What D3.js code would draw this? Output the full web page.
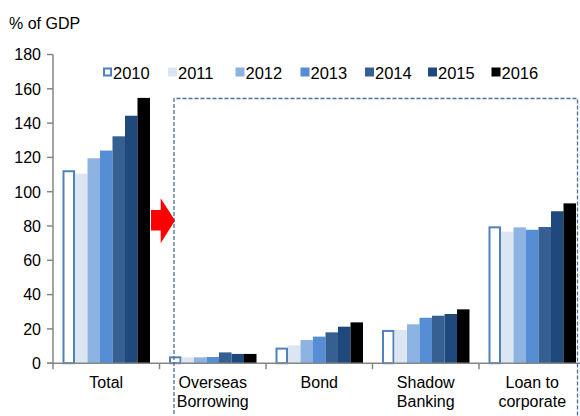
<!DOCTYPE html>
<html><head><meta charset="utf-8">
<script src="https://cdn.jsdelivr.net/npm/d3@7"></script>
<style>body{margin:0;background:#fff}svg{display:block}text{font-family:"Liberation Sans",Arial,sans-serif;fill:#000}</style>
</head><body><svg id="c" width="580" height="416"></svg>
<script>
const categories = [["Total"],["Overseas","Borrowing"],["Bond"],["Shadow","Banking"],["Loan to","corporate"]];
const years = ["2010","2011","2012","2013","2014","2015","2016"];
const colors = ["#ffffff","#dce6f2","#8db3e2","#558ed5","#376092","#1f497d","#000000"];
const values = [
  [112.5,110.5,119.5,124,132.3,144.3,154.7],
  [4,3.4,3.4,3.6,6.3,5.4,5.4],
  [9.1,10.4,13.5,15.5,18,21.3,23.8],
  [19.4,19.4,22.7,26.5,27.7,28.7,31.4],
  [79.8,76.7,79.2,77.8,79.4,88.6,93.2]
];
const yTicks = [0,20,40,60,80,100,120,140,160,180];

const svg = d3.select("#c");
const x0 = 53, x1 = 585.5, yTop = 54.5, yBot = 363.2;
const x = d3.scaleBand().domain(d3.range(categories.length)).range([x0,x1]).paddingInner(0).paddingOuter(0);
const y = d3.scaleLinear().domain([0,180]).range([yBot,yTop]);
const pad = 9.5;
const xb = d3.scaleBand().domain(years).range([pad, x.bandwidth()-pad]).padding(0);

// bars
const g = svg.append("g");
values.forEach((vals,ci)=>{
  vals.forEach((v,yi)=>{
    const bx = x(ci)+xb(years[yi]);
    if (yi===0) {
      g.append("rect").attr("x",bx+1).attr("y",y(v)+1).attr("width",xb.bandwidth()-2).attr("height",yBot-y(v)-1)
        .attr("fill","#fff").attr("stroke","#4f81bd").attr("stroke-width",2);
    } else {
      g.append("rect").attr("x",bx).attr("y",y(v)).attr("width",xb.bandwidth()).attr("height",yBot-y(v))
        .attr("fill",colors[yi]);
    }
  });
});

// y axis
const axG = svg.append("g");
axG.append("line").attr("x1",x0).attr("x2",x0).attr("y1",yTop).attr("y2",yBot).attr("stroke","#868686").attr("stroke-width",1.5);
yTicks.forEach(t=>{
  axG.append("line").attr("x1",x0-6).attr("x2",x0).attr("y1",y(t)).attr("y2",y(t)).attr("stroke","#868686").attr("stroke-width",1.5);
  axG.append("text").attr("x",x0-12).attr("y",y(t)+5.8).attr("text-anchor","end").attr("font-size",16).text(t);
});
// x axis
axG.append("line").attr("x1",x0-6).attr("x2",580).attr("y1",yBot).attr("y2",yBot).attr("stroke","#868686").attr("stroke-width",1.5);
d3.range(categories.length+1).forEach(i=>{
  const xx = i<categories.length ? x(i) : x1;
  axG.append("line").attr("x1",xx).attr("x2",xx).attr("y1",yBot).attr("y2",yBot+6).attr("stroke","#868686").attr("stroke-width",1.5);
});
categories.forEach((lines,ci)=>{
  const t = axG.append("text").attr("text-anchor","middle").attr("font-size",16).attr("x",x(ci)+x.bandwidth()/2).attr("y",388);
  lines.forEach((l,li)=>t.append("tspan").attr("x",x(ci)+x.bandwidth()/2).attr("dy",li?19:0).text(l));
});

svg.append("text").attr("x",9).attr("y",29).attr("font-size",16).text("% of GDP");

// legend
const legX = [103,168,235.5,300.5,365,428,491.5];
years.forEach((yr,i)=>{
  if(i===0){
    svg.append("rect").attr("x",legX[i]+1).attr("y",68.5).attr("width",7).attr("height",7).attr("fill","#fff").attr("stroke","#4f81bd").attr("stroke-width",2);
  } else {
    svg.append("rect").attr("x",legX[i]).attr("y",67.5).attr("width",9).attr("height",9).attr("fill",colors[i]);
  }
  svg.append("text").attr("x",legX[i]+10).attr("y",78.5).attr("font-size",16.5).text(yr);
});

// dashed box
svg.append("path").attr("d","M174,420 L174,98.5 L577.5,98.5 L577.5,420")
  .attr("fill","none").attr("stroke","#4a6f9e").attr("stroke-width",1.3).attr("stroke-dasharray","4,2");

// red arrow
svg.append("path").attr("d","M151,210 L160.7,210 L160.7,198.3 L175,220.5 L160.7,243.3 L160.7,230.5 L151,230.5 Z")
  .attr("fill","#ff0000");
</script></body></html>
